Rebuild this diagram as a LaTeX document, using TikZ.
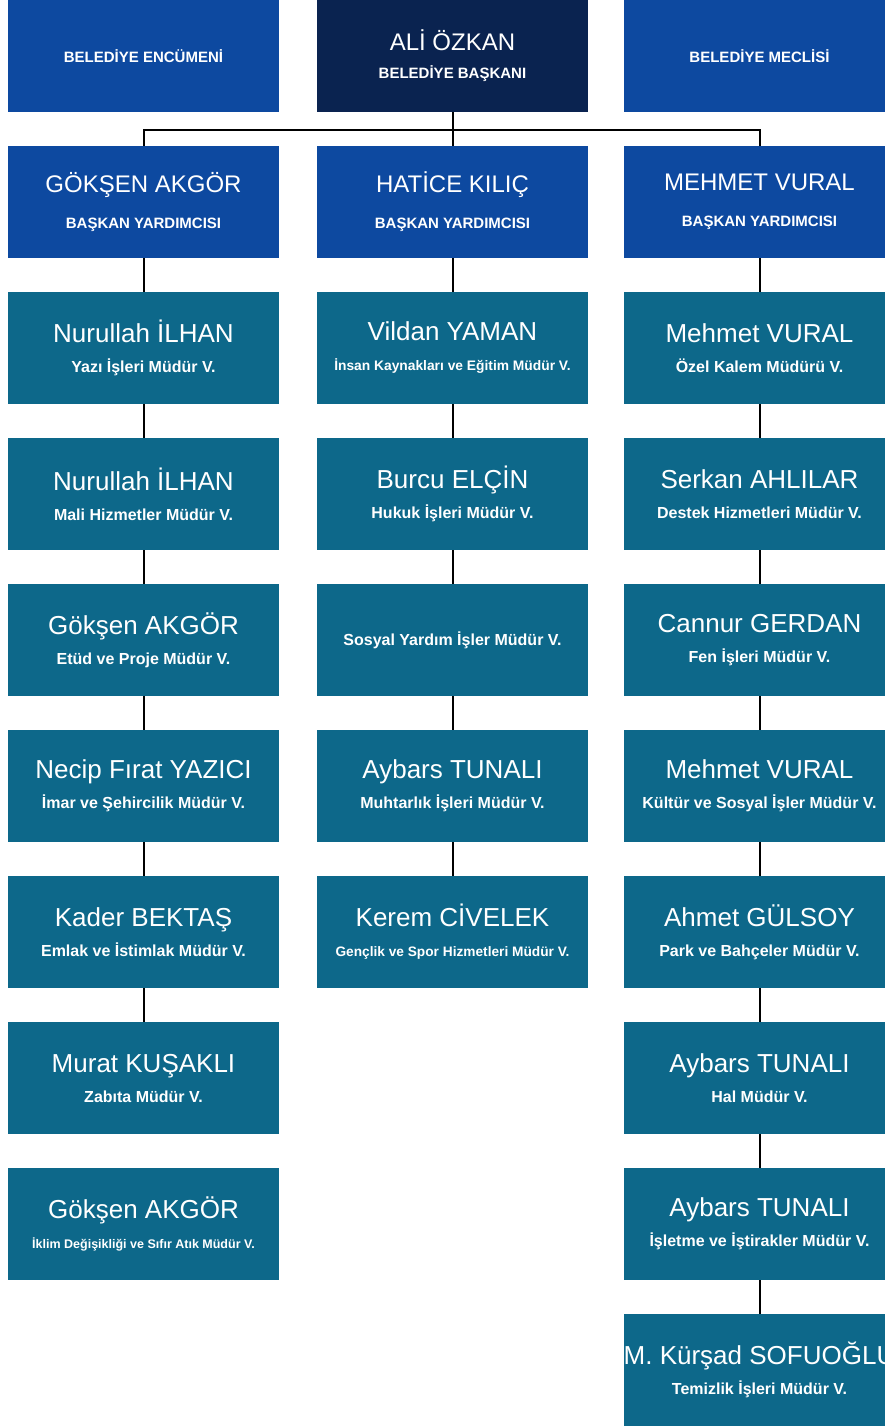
\documentclass[tikz,border=0pt]{standalone}
\usepackage{fontspec}
\setmainfont{Liberation Sans}
\usepackage{tikz}
\usetikzlibrary{positioning}
\definecolor{boxblue}{RGB}{13,73,160}
\definecolor{boxnavy}{RGB}{10,35,80}
\definecolor{boxteal}{RGB}{13,104,138}
\newcommand{\unvan}[2][16]{{\fontsize{#1}{#1}\bfseries\selectfont #2}}
\tikzset{box/.style = {rectangle,inner sep=0pt,minimum width=271pt,minimum height=112pt,text=white,align=center},
         head/.style = {box,fill=boxblue,font=\fontsize{24}{36}\selectfont},
         dept/.style = {box,fill=boxteal,font=\fontsize{26}{30}\selectfont},
         link/.style = {line width=2pt}}

\begin{document}
\begin{tikzpicture}[x=1pt,y=-1pt]
                    \useasboundingbox (0,0) rectangle (885,1428);
                    \clip (0,0) rectangle (885,1428);
                    % top row
                    \node[head] (enc) at (143.5,56) {\unvan[15]{BELEDİYE ENCÜMENİ}};
                    \node[head,fill=boxnavy,font=\fontsize{24}{28}\selectfont] (ali) at (452.5,56) {ALİ ÖZKAN\\\unvan[15]{BELEDİYE BAŞKANI}};
                    \node[head] (mec) at (759.5,56) {\unvan[15]{BELEDİYE MECLİSİ}};
                    % deputies
                    \node[head] (l0) at (143.5,202) {GÖKŞEN AKGÖR\\\unvan[15]{BAŞKAN YARDIMCISI}};
                    \node[head] (m0) at (452.5,202) {HATİCE KILIÇ\\\unvan[15]{BAŞKAN YARDIMCISI}};
                    \node[head] (r0) at (759.5,202) {MEHMET VURAL\\\unvan[15]{BAŞKAN YARDIMCISI}};
                    % left column
                    \node[dept] (l1) at (143.5,348) {Nurullah İLHAN\\\unvan{Yazı İşleri Müdür V.}};
                    \node[dept] (l2) at (143.5,494) {Nurullah İLHAN\\\unvan{Mali Hizmetler Müdür V.}};
                    \node[dept] (l3) at (143.5,640) {Gökşen AKGÖR\\\unvan{Etüd ve Proje Müdür V.}};
                    \node[dept] (l4) at (143.5,786) {Necip Fırat YAZICI\\\unvan{İmar ve Şehircilik Müdür V.}};
                    \node[dept] (l5) at (143.5,932) {Kader BEKTAŞ\\\unvan{Emlak ve İstimlak Müdür V.}};
                    \node[dept] (l6) at (143.5,1078) {Murat KUŞAKLI\\\unvan{Zabıta Müdür V.}};
                    \node[dept] (l7) at (143.5,1224) {Gökşen AKGÖR\\\unvan[12.5]{İklim Değişikliği ve Sıfır Atık Müdür V.}};
                    % middle column
                    \node[dept] (m1) at (452.5,348) {Vildan YAMAN\\\unvan[13.8]{İnsan Kaynakları ve Eğitim Müdür V.}};
                    \node[dept] (m2) at (452.5,494) {Burcu ELÇİN\\\unvan{Hukuk İşleri Müdür V.}};
                    \node[dept] (m3) at (452.5,640) {\unvan{Sosyal Yardım İşler Müdür V.}};
                    \node[dept] (m4) at (452.5,786) {Aybars TUNALI\\\unvan{Muhtarlık İşleri Müdür V.}};
                    \node[dept] (m5) at (452.5,932) {Kerem CİVELEK\\\unvan[13.7]{Gençlik ve Spor Hizmetleri Müdür V.}};
                    % right column
                    \node[dept] (r1) at (759.5,348) {Mehmet VURAL\\\unvan{Özel Kalem Müdürü V.}};
                    \node[dept] (r2) at (759.5,494) {Serkan AHLILAR\\\unvan{Destek Hizmetleri Müdür V.}};
                    \node[dept] (r3) at (759.5,640) {Cannur GERDAN\\\unvan{Fen İşleri Müdür V.}};
                    \node[dept] (r4) at (759.5,786) {Mehmet VURAL\\\unvan{Kültür ve Sosyal İşler Müdür V.}};
                    \node[dept] (r5) at (759.5,932) {Ahmet GÜLSOY\\\unvan{Park ve Bahçeler Müdür V.}};
                    \node[dept] (r6) at (759.5,1078) {Aybars TUNALI\\\unvan{Hal Müdür V.}};
                    \node[dept] (r7) at (759.5,1224) {Aybars TUNALI\\\unvan{İşletme ve İştirakler Müdür V.}};
                    \node[dept] (r8) at (759.5,1370) {M. Kürşad SOFUOĞLU\\\unvan{Temizlik İşleri Müdür V.}};
                    % connectors
                    \coordinate (bus) at (452.5,130);
                    \draw[link] (ali) -- (m0);
                    \draw[link] (l0.north) |- (bus) -| (r0.north);
                    \foreach \x [evaluate=\x as \y using int(\x+1)] in {0,...,5} \draw[link] (l\x) -- (l\y);
                    \foreach \x [evaluate=\x as \y using int(\x+1)] in {0,...,4} \draw[link] (m\x) -- (m\y);
                    \foreach \x [evaluate=\x as \y using int(\x+1)] in {0,...,7} \draw[link] (r\x) -- (r\y);
                \end{tikzpicture}
\end{document}
